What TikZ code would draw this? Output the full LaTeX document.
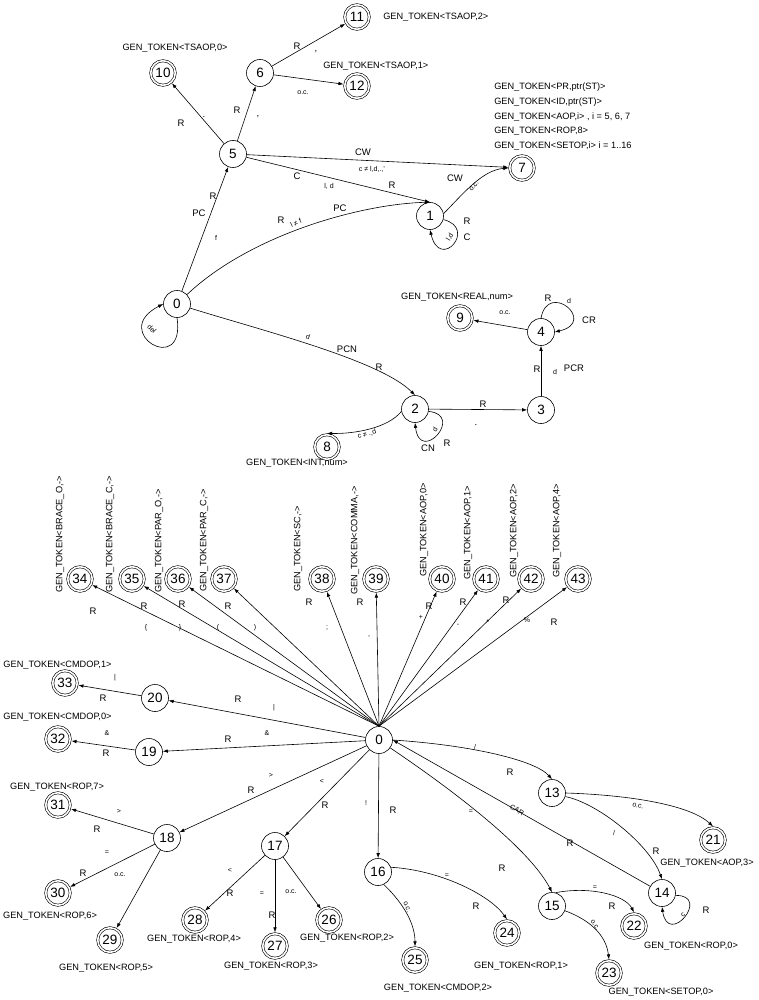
\documentclass[tikz,border=0pt]{standalone}
\usepackage{fontspec}
\setmainfont{Liberation Sans}
\usetikzlibrary{arrows.meta}
\newcounter{lblc}
\newcommand\lbl[3][]{\stepcounter{lblc}\node[lab,#1] (lab\arabic{lblc}) at (#2) {#3};}
\tikzset{
 st/.style={circle,draw,minimum size=27pt,inner sep=0pt,font=\fontsize{13.5}{14}\selectfont},
 acc/.style={st,double,double distance=1.6pt,minimum size=24.5pt,outer sep=1.4pt},
 arr/.style={-{Latex[length=5pt,width=3.6pt]}},
 lab/.style={inner sep=0pt,font=\fontsize{9.5}{10}\selectfont},
 sm/.style={inner sep=0pt,font=\fontsize{7}{8}\selectfont},
 gen/.style={inner sep=0pt,font=\fontsize{9.2}{10}\selectfont},
 vgen/.style={gen,rotate=90,anchor=west},
}
\begin{document}
\begin{tikzpicture}[x=1pt,y=-1pt,line width=0.6pt]
\fill[white] (0,0) rectangle (758,1000);
\useasboundingbox (0,0) rectangle (758,1000);
% ---------- upper automaton ----------
\node[acc] (a10) at (163,73) {10};
\node[st]  (a6)  at (260,73) {6};
\node[acc] (a11) at (357,17) {11};
\node[acc] (a12) at (357,86) {12};
\node[st]  (a5)  at (233,154) {5};
\node[acc] (a7)  at (522,168) {7};
\node[st]  (a1)  at (430,216) {1};
\node[st]  (a0)  at (177,304) {0};
\node[st]  (a2)  at (415,409) {2};
\node[st]  (a3)  at (541,410) {3};
\node[st]  (a4)  at (541,332) {4};
\node[acc] (a9)  at (460,318) {9};
\node[acc] (a8)  at (327,447) {8};

\draw[arr] (a5) -- (a10);
\draw[arr] (a5) -- (a6);
\draw[arr] (a6) -- (a11);
\draw[arr] (a6) -- (a12);
\draw[arr] (a5) -- (a7);
\draw[arr] (a5) -- (a1.north);
\draw[arr] (a0) -- (a5);
\draw[arr] (a0) .. controls (250,235) and (360,204) .. (a1.north);
\draw[arr] (a1.10) .. controls (462,195) and (482,170) .. (a7.west);
\draw[arr] (a1.-15) .. controls (478,228) and (440,272) .. (a1.south);
\draw[arr] (a0.south) .. controls (186,378) and (108,332) .. (a0.west);
\draw[arr] (a0) .. controls (260,330) and (380,360) .. (a2.north);
\draw[arr] (a2.-10) .. controls (465,415) and (420,465) .. (a2.south);
\draw[arr] (a2.190) .. controls (388,428) and (355,434) .. (a8.north);
\draw[arr] (a2) -- (a3);
\draw[arr] (a3) -- (a4);
\draw[arr] (a4) -- (a9);
\draw[arr] (a4.north) .. controls (548,280) and (598,322) .. (a4.east);

\lbl[gen]{175,48}{GEN\_TOKEN<TSAOP,0>}
\lbl[gen,anchor=west]{383,17}{GEN\_TOKEN<TSAOP,2>}
\lbl[gen,anchor=west]{323,66}{GEN\_TOKEN<TSAOP,1>}
\lbl[gen,anchor=west]{494,87.3}{GEN\_TOKEN<PR,ptr(ST)>}
\lbl[gen,anchor=west]{494,102.3}{GEN\_TOKEN<ID,ptr(ST)>}
\lbl[gen,anchor=west]{494,116.7}{GEN\_TOKEN<AOP,i> , i = 5, 6, 7}
\lbl[gen,anchor=west]{494,131.7}{GEN\_TOKEN<ROP,8>}
\lbl[gen,anchor=west]{494,146}{GEN\_TOKEN<SETOP,i> i = 1..16}
\lbl[gen]{457,297}{GEN\_TOKEN<REAL,num>}
\lbl[gen]{297,463}{GEN\_TOKEN<INT,num>}

\lbl{181,123}{R}
\lbl{204,117}{.}
\lbl{237,110}{R}
\lbl{258,117}{,}
\lbl{297,46}{R}
\lbl{316,52}{,}
\lbl[sm]{303,93}{o.c.}
\lbl{363,152}{CW}
\lbl[sm]{372,169}{c ≠ l,d,.,'}
\lbl{297,176}{C}
\lbl[sm]{329,186}{l, d}
\lbl{392,185}{R}
\lbl{213,196}{R}
\lbl{199,213}{PC}
\lbl[sm]{216,238}{f}
\lbl{281,220}{R}
\lbl[sm,rotate=25]{296,223}{l ≠ f}
\lbl{340,208}{PC}
\lbl{455,178}{CW}
\lbl[sm,rotate=50]{474,186}{o.c.}
\lbl{467,221}{R}
\lbl{467,237}{C}
\lbl[sm,rotate=60]{450,237}{l,d}
\lbl[sm,rotate=-45]{152,329}{del}
\lbl[sm,rotate=-20]{308,337}{d}
\lbl{347,349}{PCN}
\lbl{379,367}{R}
\lbl{483,404}{R}
\lbl{476,425}{.}
\lbl[sm,rotate=60]{435,430}{d}
\lbl{447,443}{R}
\lbl{428,448}{CN}
\lbl[sm,rotate=15]{367,434}{c ≠ .,d}
\lbl{537,369}{R}
\lbl[sm]{555,372}{d}
\lbl{574,368}{PCR}
\lbl[sm]{505,313}{o.c.}
\lbl{548,298}{R}
\lbl[sm]{569,301}{d}
\lbl{589,320}{CR}

% ---------- lower automaton ----------
\node[st]  (b0)  at (379,740) {0};
\node[acc] (b34) at (80,579) {34};
\node[acc] (b35) at (132,579) {35};
\node[acc] (b36) at (178,579) {36};
\node[acc] (b37) at (224,579) {37};
\node[acc] (b38) at (322,579) {38};
\node[acc] (b39) at (376,579) {39};
\node[acc] (b40) at (442,579) {40};
\node[acc] (b41) at (486,579) {41};
\node[acc] (b42) at (531,579) {42};
\node[acc] (b43) at (578,579) {43};
\node[st]  (b20) at (155,698) {20};
\node[acc] (b33) at (65,683) {33};
\node[st]  (b19) at (149,752) {19};
\node[acc] (b32) at (58,739) {32};
\node[acc] (b31) at (58,805) {31};
\node[acc] (b30) at (58,893) {30};
\node[acc] (b29) at (110,940) {29};
\node[st]  (b18) at (167,838) {18};
\node[st]  (b17) at (275,846) {17};
\node[acc] (b28) at (195,920) {28};
\node[acc] (b27) at (275,946) {27};
\node[acc] (b26) at (329,920) {26};
\node[st]  (b16) at (378,872) {16};
\node[acc] (b25) at (415,960) {25};
\node[acc] (b24) at (507,933) {24};
\node[st]  (b15) at (552,906) {15};
\node[acc] (b22) at (634,926) {22};
\node[acc] (b23) at (609,973) {23};
\node[st]  (b14) at (662,893) {14};
\node[acc] (b21) at (713,840) {21};
\node[st]  (b13) at (552,793) {13};

\foreach \i in {34,...,43} \draw[arr] (b0.north) -- (b\i);
\draw[arr] (b0) -- (b20);
\draw[arr] (b20) -- (b33);
\draw[arr] (b0) -- (b19);
\draw[arr] (b19) -- (b32);
\draw[arr] (b0) -- (b18);
\draw[arr] (b0) -- (b17);
\draw[arr] (b0) -- (b16);
\draw[arr] (b18) -- (b31);
\draw[arr] (b18) -- (b30);
\draw[arr] (b18) -- (b29);
\draw[arr] (b17) -- (b28);
\draw[arr] (b17) -- (b27);
\draw[arr] (b17) -- (b26);
\draw[arr] (b0.east) .. controls (470,745) and (535,760) .. (b13.north);
\draw[arr] (b13.east) .. controls (630,795) and (690,805) .. (b21.north);
\draw[arr] (b13.-15) .. controls (598,803) and (650,845) .. (b14.north);
\draw[arr] (b14) -- (b0.east);
\draw[arr] (b0.-35) .. controls (460,795) and (530,850) .. (b15.north);
\draw[arr] (b16.20) .. controls (440,870) and (490,895) .. (b24.north);
\draw[arr] (b16.-65) .. controls (405,905) and (415,925) .. (b25.north);
\draw[arr] (b15.75) .. controls (590,886) and (625,895) .. (b22.north);
\draw[arr] (b15.-20) .. controls (590,920) and (606,935) .. (b23.north);
\draw[arr] (b14.-10) .. controls (712,895) and (668,948) .. (b14.south);

\lbl[vgen]{60,593}{GEN\_TOKEN<BRACE\_O,->}
\lbl[vgen]{110,593}{GEN\_TOKEN<BRACE\_C,->}
\lbl[vgen]{159,593}{GEN\_TOKEN<PAR\_O,->}
\lbl[vgen]{204,592}{GEN\_TOKEN<PAR\_C,->}
\lbl[vgen]{298,592}{GEN\_TOKEN<SC,->}
\lbl[vgen]{355,595}{GEN\_TOKEN<COMMA,->}
\lbl[vgen]{424,577}{GEN\_TOKEN<AOP,0>}
\lbl[vgen]{468,580}{GEN\_TOKEN<AOP,1>}
\lbl[vgen]{514,578}{GEN\_TOKEN<AOP,2>}
\lbl[vgen]{557,578}{GEN\_TOKEN<AOP,4>}

\lbl[gen]{57.5,665}{GEN\_TOKEN<CMDOP,1>}
\lbl[gen]{57.5,717}{GEN\_TOKEN<CMDOP,0>}
\lbl[gen]{57,787}{GEN\_TOKEN<ROP,7>}
\lbl[gen]{50,916}{GEN\_TOKEN<ROP,6>}
\lbl[gen]{106,968}{GEN\_TOKEN<ROP,5>}
\lbl[gen]{194,939}{GEN\_TOKEN<ROP,4>}
\lbl[gen]{271,966}{GEN\_TOKEN<ROP,3>}
\lbl[gen]{347,938}{GEN\_TOKEN<ROP,2>}
\lbl[gen]{438,988}{GEN\_TOKEN<CMDOP,2>}
\lbl[gen]{521,966}{GEN\_TOKEN<ROP,1>}
\lbl[gen]{661,992}{GEN\_TOKEN<SETOP,0>}
\lbl[gen]{691,946}{GEN\_TOKEN<ROP,0>}
\lbl[gen]{707,863}{GEN\_TOKEN<AOP,3>}

\lbl{93,611}{R}
\lbl{144,606}{R}
\lbl{182,604}{R}
\lbl{228,606}{R}
\lbl[sm]{146,628}{\{}
\lbl[sm]{180,628}{\}}
\lbl[sm]{218,628}{(}
\lbl[sm]{255,628}{)}
\lbl{309,602}{R}
\lbl[sm]{327,628}{;}
\lbl{360,602}{R}
\lbl[sm]{369,637}{,}
\lbl{429,606}{R}
\lbl[sm]{421,617}{+}
\lbl{463,602}{R}
\lbl[sm]{458,625}{-}
\lbl{506,600}{R}
\lbl[sm]{488,622}{*}
\lbl[sm]{527,620}{\%}
\lbl{554,622}{R}
\lbl[sm]{115,678}{|}
\lbl{103,698}{R}
\lbl{238,699}{R}
\lbl[sm]{274,708}{|}
\lbl[sm]{107,733}{\&}
\lbl{106,753}{R}
\lbl{228,739}{R}
\lbl[sm]{267,733}{\&}
\lbl[sm]{271,775}{>}
\lbl{251,790}{R}
\lbl[sm]{322,781}{<}
\lbl{325,805}{R}
\lbl[sm]{366,803}{!}
\lbl{393,810}{R}
\lbl[sm]{475,747}{/}
\lbl{510,772}{R}
\lbl[sm,rotate=-15]{638,806}{o.c.}
\lbl[sm]{614,833}{/}
\lbl{656,851}{R}
\lbl[sm,rotate=-30]{517,810}{CAR}
\lbl{570,843}{R}
\lbl[sm]{471,812}{=}
\lbl{502,868}{R}
\lbl[sm]{447,876}{=}
\lbl{476,906}{R}
\lbl[sm,rotate=-70]{407,907}{o.c.}
\lbl[sm]{595,888}{=}
\lbl{612,906}{R}
\lbl[sm,rotate=-55]{595,925}{o.c.}
\lbl[sm,rotate=45]{683,915}{c}
\lbl{706,910}{R}
\lbl[sm]{119,811}{>}
\lbl{97,829}{R}
\lbl[sm]{107,853}{=}
\lbl{83,873}{R}
\lbl[sm]{120,875}{o.c.}
\lbl[sm]{230,870}{<}
\lbl{230,893}{R}
\lbl[sm]{262,894}{=}
\lbl{272,915}{R}
\lbl[sm]{291,892}{o.c.}
\end{tikzpicture}
\end{document}
